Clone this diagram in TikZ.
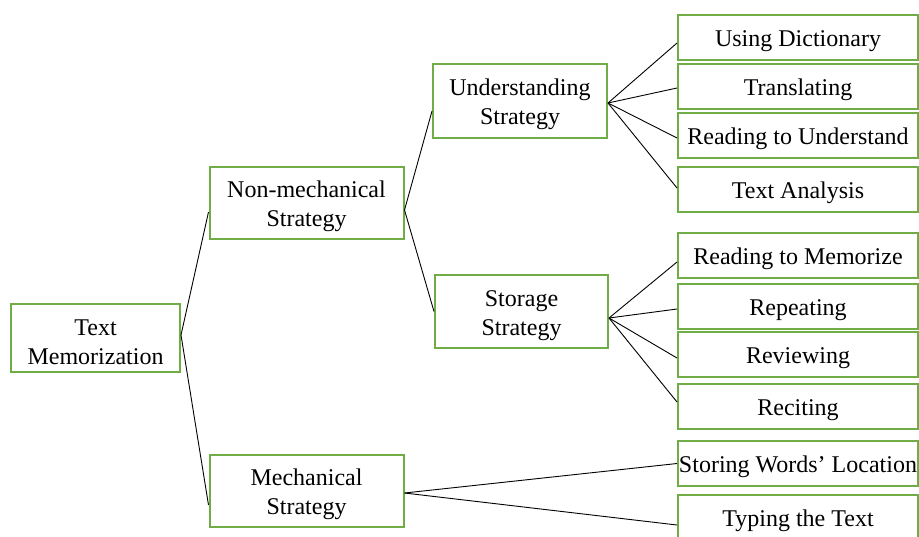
\documentclass[tikz,border=0pt]{standalone}
\usepackage{fontspec}
\setmainfont{Liberation Serif}
\usetikzlibrary{calc,positioning}
\definecolor{boxgreen}{RGB}{112,173,71}
\newcommand{\topgap}{\rule{0pt}{11.8pt}}
\tikzstyle{stratbox}=[rectangle, draw=boxgreen, line width=1pt, align=center,
  inner sep=0pt, font=\fontsize{12}{14.5}\selectfont]
\tikzstyle{leafbox}=[stratbox, minimum width=120pt, minimum height=22.5pt,
  execute at begin node={\topgap}]
\tikzstyle{link}=[black, line width=0.45pt]

\begin{document}
\begin{tikzpicture}[x=0.5pt, y=-0.5pt]
  \clip (0,0) rectangle (919,536);
  % root
  \node[stratbox, minimum width=84.5pt, minimum height=34pt] at (95.5,338)
    (mem) {\topgap Text\\Memorization};
  % second level
  \node[stratbox, minimum width=97pt, minimum height=36pt] at (306.5,203)
    (nonmech) {\topgap Non-mechanical\\Strategy};
  \node[stratbox, minimum width=97pt, minimum height=36pt] at (306.5,491)
    (mech) {\topgap Mechanical\\Strategy};
  % third level
  \node[stratbox, minimum width=87pt, minimum height=37pt] at (520,101)
    (under) {\topgap Understanding\\Strategy};
  \node[stratbox, minimum width=86.5pt, minimum height=36.5pt] at (521.5,311.5)
    (storage) {\topgap Storage\\Strategy};
  % leaves
  \node[leafbox] at (798,37) (dict) {Using Dictionary};
  \node[leafbox] at (798,86.5) (transl) {Translating};
  \node[leafbox] at (798,135.5) (readu) {Reading to Understand};
  \node[leafbox] at (798,189.5) (analysis) {Text Analysis};
  \node[leafbox] at (798,255.5) (readm) {Reading to Memorize};
  \node[leafbox] at (798,306.5) (repeat) {Repeating};
  \node[leafbox] at (798,354.5) (review) {Reviewing};
  \node[leafbox] at (798,406.5) (recite) {Reciting};
  \node[leafbox] at (798,463.5) (storing) {Storing Words' Location};
  \node[leafbox] at (798,517.5) (typing) {Typing the Text};
  % lines
  \draw[link] ($(nonmech.west)+(0,9)$) -- ($(mem.east)+(0,-3)$)
    -- ($(mech.west)+(0,14)$);
  \draw[link] ($(under.west)+(0,10)$) -- ($(nonmech.east)+(0,7)$)
    -- (storage.west);
  \coordinate (ufan) at ($(under.east)+(0,2)$);
  \draw[link] (ufan) -- ($(dict.west)+(0,6)$);
  \draw[link] (ufan) -- ($(transl.west)+(0,1.5)$);
  \draw[link] (ufan) -- ($(readu.west)+(0,2.5)$);
  \draw[link] (ufan) -- ($(analysis.west)+(0,-1.5)$);
  \coordinate (sfan) at ($(storage.east)+(0,6.5)$);
  \draw[link] (sfan) -- ($(readm.west)+(0,6.5)$);
  \draw[link] (sfan) -- ($(repeat.west)+(0,2.5)$);
  \draw[link] (sfan) -- ($(review.west)+(0,3.5)$);
  \draw[link] (sfan) -- ($(recite.west)+(0,-4.5)$);
  \coordinate (mfan) at ($(mech.east)+(0,2)$);
  \draw[link] (mfan) -- (storing.west);
  \draw[link] (mfan) -- ($(typing.west)+(0,7.5)$);
\end{tikzpicture}
\end{document}
